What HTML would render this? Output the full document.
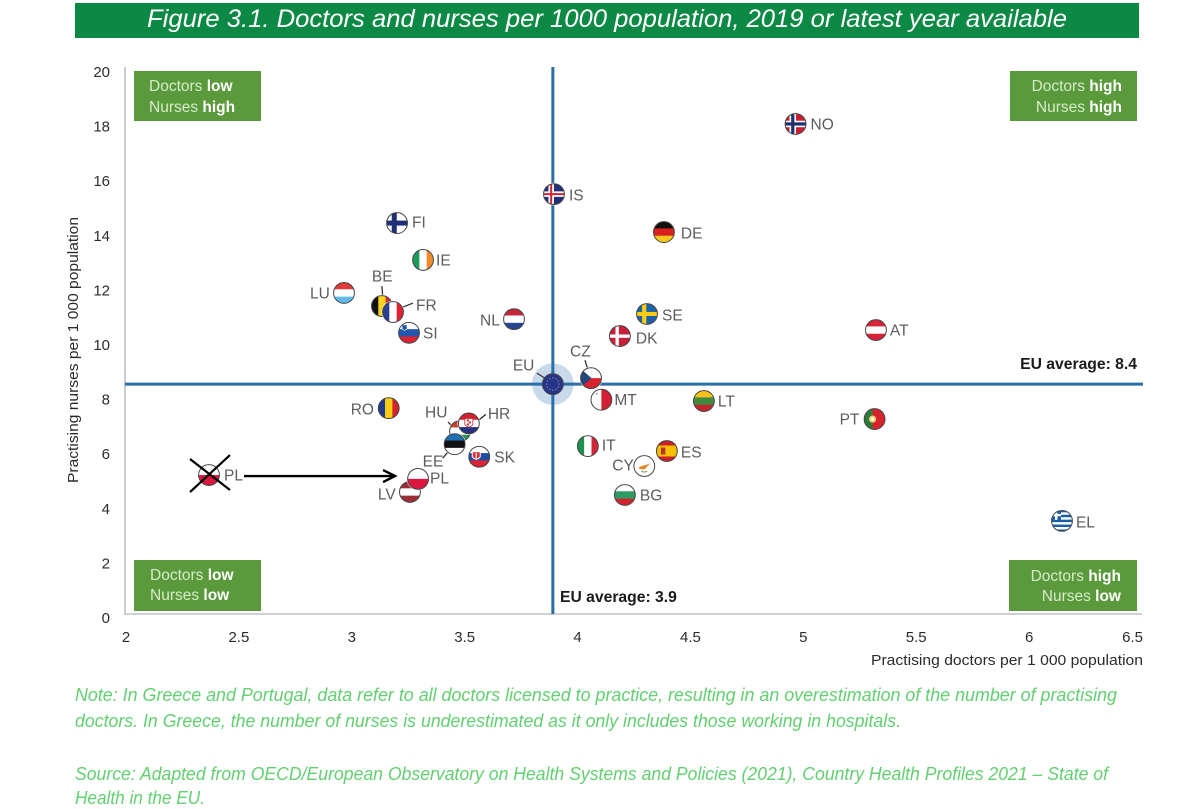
<!DOCTYPE html>
<html lang="en">
<head>
<meta charset="utf-8">
<title>Doctors and nurses per 1000 population</title>
<style>
html,body{margin:0;padding:0;background:#fff;width:1200px;height:809px;overflow:hidden}
svg{display:block;font-family:"Liberation Sans",Arial,sans-serif;filter:blur(0.35px)}
.tick{font-size:15px;fill:#2b2b2b}
.axt{font-size:14.5px;fill:#2b2b2b}
.lab{font-size:15.5px;fill:#5c5c5c}
.box{fill:#5a9a3d}
.boxt{font-size:15.5px;fill:#d6ecc8}
.boxt tspan.b{font-weight:bold;fill:#fff}
.note{font-size:18px;font-style:italic;fill:#62d070}
.avg{font-size:15.7px;font-weight:bold;fill:#1a1a1a}
</style>
</head>
<body>
<svg id="chart" width="1200" height="809" viewBox="0 0 1200 809" xmlns="http://www.w3.org/2000/svg">
  <rect x="75" y="3" width="1064" height="35" fill="#0c8a45"/>
  <text x="147" y="27" font-size="25" font-style="italic" fill="#fff" textLength="920" lengthAdjust="spacingAndGlyphs">Figure 3.1. Doctors and nurses per 1000 population, 2019 or latest year available</text>

  <rect class="box" x="134" y="71" width="127" height="50"/>
  <text class="boxt" x="149" y="91">Doctors <tspan class="b">low</tspan></text>
  <text class="boxt" x="149" y="112">Nurses <tspan class="b">high</tspan></text>

  <rect class="box" x="1010" y="71" width="127" height="50"/>
  <text class="boxt" x="1122" y="91" text-anchor="end">Doctors <tspan class="b">high</tspan></text>
  <text class="boxt" x="1122" y="112" text-anchor="end">Nurses <tspan class="b">high</tspan></text>

  <rect class="box" x="134" y="560" width="127" height="51"/>
  <text class="boxt" x="150" y="580">Doctors <tspan class="b">low</tspan></text>
  <text class="boxt" x="150" y="600">Nurses <tspan class="b">low</tspan></text>

  <rect class="box" x="1009" y="560" width="128" height="51"/>
  <text class="boxt" x="1121" y="581" text-anchor="end">Doctors <tspan class="b">high</tspan></text>
  <text class="boxt" x="1121" y="601" text-anchor="end">Nurses <tspan class="b">low</tspan></text>

  <line x1="125" y1="67" x2="125" y2="614" stroke="#bfc0c4" stroke-width="1.6"/>
  <line x1="124" y1="614" x2="1142" y2="614" stroke="#bfc0c4" stroke-width="1.6"/>

  <g id="ticks"></g>

  <text class="axt" x="1143" y="665" text-anchor="end" textLength="272" lengthAdjust="spacingAndGlyphs">Practising doctors per 1 000 population</text>
  <text class="axt" transform="translate(78,350) rotate(-90)" text-anchor="middle" textLength="266" lengthAdjust="spacingAndGlyphs">Practising nurses per 1 000 population</text>

  <g id="averages"></g>
  <g id="marks"></g>
  <g id="annotation"></g>

  <text class="avg" x="1137" y="369" text-anchor="end">EU average: 8.4</text>
  <text class="avg" x="560" y="602">EU average: 3.9</text>

  <text class="note" x="75" y="701" textLength="1042" lengthAdjust="spacingAndGlyphs">Note: In Greece and Portugal, data refer to all doctors licensed to practice, resulting in an overestimation of the number of practising</text>
  <text class="note" x="75" y="727" textLength="826" lengthAdjust="spacingAndGlyphs">doctors. In Greece, the number of nurses is underestimated as it only includes those working in hospitals.</text>
  <text class="note" x="75" y="780" textLength="1033" lengthAdjust="spacingAndGlyphs">Source: Adapted from OECD/European Observatory on Health Systems and Policies (2021), Country Health Profiles 2021 – State of</text>
  <text class="note" x="75" y="804" textLength="130" lengthAdjust="spacingAndGlyphs">Health in the EU.</text>
</svg>

<script>
// ---- chart data ----
const countries = ['NO','IS','FI','DE','IE','LU','BE','FR','SI','NL','SE','DK','AT','EU','MT','CZ','LT','RO','PT','HU','HR','EE','IT','CY','ES','SK','LV','PL','BG','EL','PL_OLD'];
const doctors   = [4.97,3.90,3.205,4.387,3.32,2.97,3.138,3.187,3.258,3.723,4.312,4.192,5.326,3.895,4.11,4.064,4.564,3.168,5.32,3.484,3.523,3.46,4.05,4.30,4.40,3.569,3.262,3.298,4.214,6.15,2.372];
const nurses    = [17.95,15.38,14.32,13.99,12.97,11.76,11.28,11.06,10.30,10.80,10.99,10.18,10.40,8.42,7.85,8.64,7.80,7.54,7.14,6.70,6.98,6.22,6.15,5.42,5.97,5.76,4.47,4.95,4.36,3.41,5.09];
const xTickValues = [2,2.5,3,3.5,4,4.5,5,5.5,6,6.5];
const yTickValues = [0,2,4,6,8,10,12,14,16,18,20];
const euAverageDoctors = 3.895;
const euAverageNurses = 8.42;

// ---- axis functions ----
const xMin = 2, xMax = 6.5, yMin = 0, yMax = 20;
function xS(v){ return 125 + (v - xMin) / (xMax - xMin) * 1016; }
function yS(v){ return 614 - (v - yMin) / (yMax - yMin) * 546; }

// ---- label placement (pixel offsets from marker centre; styling, not data) ----
const labelPlacement = {
  NO:[15,0],IS:[15,1],FI:[15,-1],DE:[17,1],IE:[13,0],LU:[-34,0],BE:[-10,-30],FR:[23,-7],SI:[14,0],NL:[-34,1],
  SE:[15,1],DK:[16,2],AT:[14,0],EU:[-40,-19],CZ:[-21,-27],MT:[13,0],LT:[14,0],RO:[-38,1],PT:[-35,0],HU:[-35,-19],
  HR:[19,-10],EE:[-32,17],IT:[14,-1],ES:[14,1],SK:[15,0],CY:[-32,-1],PL:[12,-1],LV:[-32,2],BG:[15,0],EL:[14,1],PL_OLD:[15,0]
};
const leaderPlacement = {
  BE:[0,-20,1,-6],FR:[10,-5,20,-9],EU:[-16,-11,-8,-6],CZ:[-6,-18,-3,-8],HU:[-12,-9,-6,-3],HR:[8,-2,17,-9],EE:[-12,14,-6,7]
};

// ---- flag styles ----
const flagStyle = {
  NO:{k:'n',c:['#c8202f','#fff','#1f2f6b'],w:[6.5,3.2]},
  IS:{k:'n',c:['#1f3277','#fff','#d2242e'],w:[5.5,2]},
  FI:{k:'n',c:['#fff','#fff','#1f2f7a'],w:[5,5]},
  SE:{k:'n',c:['#1d62a8','#f8cc15','#f8cc15'],w:[4,4]},
  DK:{k:'n',c:['#c8203a','#fff','#fff'],w:[3.2,3.2]},
  DE:{k:'h',c:['#111','#d8201f','#f7c81a']},
  IE:{k:'v',c:['#1e9a58','#fff','#f08a2c']},
  LU:{k:'h',c:['#e6393f','#fff','#62b8e8']},
  BE:{k:'v',c:['#111','#f6d31c','#d9262e']},
  FR:{k:'v',c:['#2b3f94','#fff','#dc2433']},
  SI:{k:'h',c:['#fff','#2257ad','#dc2433'],d:'si'},
  NL:{k:'h',c:['#c2273a','#fff','#27468f']},
  AT:{k:'h',c:['#d6233a','#fff','#d6233a']},
  EU:{k:'eu',c:['#27348b']},
  MT:{k:'v',c:['#fff','#d31f34'],d:'mt'},
  CZ:{k:'h',c:['#fff','#d8232f'],d:'cz'},
  LT:{k:'h',c:['#f5c31a','#3f8a3f','#c2272d']},
  RO:{k:'v',c:['#1f3a8a','#f7ce12','#d2252e']},
  PT:{k:'pt',c:['#2b7d39','#d8232f']},
  HU:{k:'h',c:['#cf3d2c','#fff','#2f8f55']},
  HR:{k:'h',c:['#d4232f','#fff','#25327f'],d:'hr'},
  EE:{k:'h',c:['#1f6fb4','#111','#fff']},
  IT:{k:'v',c:['#1f9150','#fff','#d2253a']},
  CY:{k:'cy',c:['#fff']},
  ES:{k:'es',c:['#c9202a','#f5c000']},
  SK:{k:'h',c:['#fff','#1e4ea2','#dc2433'],d:'sk'},
  LV:{k:'h',c:['#9c2e3a','#fff','#9c2e3a']},
  PL:{k:'h',c:['#fff','#dd1640']},
  BG:{k:'h',c:['#fff','#2c9a62','#d2232f']},
  EL:{k:'el',c:['#1a5ea8','#fff']},
  PL_OLD:{k:'h',c:['#fff','#dd1640']}
};

const NS = 'http://www.w3.org/2000/svg';
function mk(tag, attrs, parent){
  const el = document.createElementNS(NS, tag);
  for (const key in attrs) el.setAttribute(key, attrs[key]);
  if (parent) parent.appendChild(el);
  return el;
}

// ticks
const ticksG = document.getElementById('ticks');
xTickValues.forEach(function(v, i){
  const last = i === xTickValues.length - 1;
  const t = mk('text', {class:'tick', x: last ? xS(v) + 2 : xS(v) + 1, y: 642, 'text-anchor': last ? 'end' : 'middle'}, ticksG);
  
  
  t.textContent = String(v);
});
yTickValues.forEach(function(v){
  const t = mk('text', {class:'tick', x: 110, y: yS(v) + 9, 'text-anchor': 'end'}, ticksG);
  
  
  t.textContent = String(v);
});

// average lines (EU halo sits beneath them)
const avgG = document.getElementById('averages');
const euIdx = countries.indexOf('EU');
const halo = mk('circle', {cx:xS(doctors[euIdx]), cy:yS(nurses[euIdx]), r:20.8, fill:'#c8d9e9'}, avgG);


const hLine = mk('line', {x1:125, x2:1143, y1:yS(euAverageNurses), y2:yS(euAverageNurses), stroke:'#2a6ea8', 'stroke-width':3}, avgG);


const vLine = mk('line', {x1:xS(euAverageDoctors), x2:xS(euAverageDoctors), y1:67, y2:614, stroke:'#2a6ea8', 'stroke-width':3}, avgG);



// flag painter (local coordinates around marker centre)
function stripes(g, dir, cols){
  const n = cols.length, s = 22 / n;
  cols.forEach(function(c, i){
    if (dir === 'h') mk('rect', {x:-11, y:-11 + i * s, width:22, height:s + 0.2, fill:c}, g);
    else mk('rect', {x:-11 + i * s, y:-11, width:s + 0.2, height:22, fill:c}, g);
  });
}
function paintFlag(g, st){
  const c = st.c;
  if (st.k === 'h' || st.k === 'v') stripes(g, st.k, c);
  if (st.k === 'n'){
    const o = st.w[0], inner = st.w[1], cx = -2.8;
    mk('rect', {x:-11, y:-11, width:22, height:22, fill:c[0]}, g);
    mk('rect', {x:cx - o / 2, y:-11, width:o, height:22, fill:c[1]}, g);
    mk('rect', {x:-11, y:-o / 2, width:22, height:o, fill:c[1]}, g);
    mk('rect', {x:cx - inner / 2, y:-11, width:inner, height:22, fill:c[2]}, g);
    mk('rect', {x:-11, y:-inner / 2, width:22, height:inner, fill:c[2]}, g);
  }
  if (st.k === 'eu'){
    mk('rect', {x:-11, y:-11, width:22, height:22, fill:c[0]}, g);
    for (let a = 0; a < 12; a++){
      mk('circle', {cx:6.2 * Math.cos(a * Math.PI / 6), cy:6.2 * Math.sin(a * Math.PI / 6), r:0.7, fill:'#8d8f7a'}, g);
    }
  }
  if (st.k === 'pt'){
    mk('rect', {x:-11, y:-11, width:22, height:22, fill:c[1]}, g);
    mk('rect', {x:-11, y:-11, width:9, height:22, fill:c[0]}, g);
    mk('circle', {cx:-2, cy:0, r:3.6, fill:'#f0d070'}, g);
    mk('circle', {cx:-2, cy:0, r:1.5, fill:'#fff'}, g);
  }
  if (st.k === 'es'){
    mk('rect', {x:-11, y:-11, width:22, height:22, fill:c[0]}, g);
    mk('rect', {x:-11, y:-5.5, width:22, height:11, fill:c[1]}, g);
    mk('rect', {x:-6, y:-3.5, width:4.5, height:7, fill:'#b5372a'}, g);
  }
  if (st.k === 'cy'){
    mk('rect', {x:-11, y:-11, width:22, height:22, fill:c[0]}, g);
    mk('path', {d:'M-6 2 C-3 -1 1 0 6 -3 C4 0 2 1 1 3 C-2 4 -4 3 -6 2Z', fill:'#d98a2e'}, g);
    mk('path', {d:'M-3 5 Q0 7 3 5', stroke:'#7f9a55', fill:'none', 'stroke-width':1}, g);
  }
  if (st.k === 'el'){
    mk('rect', {x:-11, y:-11, width:22, height:22, fill:c[0]}, g);
    for (let i = 0; i < 4; i++) mk('rect', {x:-11, y:-8.6 + i * 4.9, width:22, height:2.45, fill:c[1]}, g);
    mk('rect', {x:-11, y:-11, width:10, height:10, fill:c[0]}, g);
    mk('rect', {x:-7, y:-11, width:2.4, height:10, fill:c[1]}, g);
    mk('rect', {x:-11, y:-7, width:10, height:2.4, fill:c[1]}, g);
  }
  if (st.d === 'cz') mk('path', {d:'M-11 -10 L0.5 0 L-11 10Z', fill:'#23477f'}, g);
  if (st.d === 'mt') mk('rect', {x:-5.5, y:-7, width:2, height:2, fill:'#b9b9b9'}, g);
  if (st.d === 'si') mk('path', {d:'M-7 -8 h5 v4 q-2.5 3 -5 0Z', fill:'#2257ad', stroke:'#fff', 'stroke-width':0.7}, g);
  if (st.d === 'sk'){
    mk('path', {d:'M-7 -5 h8 v5 q-4 5 -8 0Z', fill:'#d92a35', stroke:'#fff', 'stroke-width':1}, g);
    mk('rect', {x:-3.6, y:-3.6, width:1.2, height:5.5, fill:'#fff'}, g);
  }
  if (st.d === 'hr'){
    mk('path', {d:'M-4 -5 h8 v6 q-4 5 -8 0Z', fill:'#fff', stroke:'#c3232f', 'stroke-width':0.8}, g);
    mk('rect', {x:-2, y:-4, width:2, height:2, fill:'#d4232f'}, g);
    mk('rect', {x:0, y:-2, width:2, height:2, fill:'#d4232f'}, g);
    mk('rect', {x:-2, y:0, width:2, height:2, fill:'#d4232f'}, g);
  }
}

// markers
const defs = mk('defs', {}, document.getElementById('chart'));
const clip = mk('clipPath', {id:'flag-clip'}, defs);
mk('circle', {cx:0, cy:0, r:10.4}, clip);
const marksG = document.getElementById('marks');
countries.forEach(function(code, i){
  const cx = xS(doctors[i]), cy = yS(nurses[i]);
  const pointG = mk('g', {}, marksG);
  
  

  const lead = leaderPlacement[code];
  if (lead) {
    const ln = mk('line', {x1:cx + lead[0], y1:cy + lead[1], x2:cx + lead[2], y2:cy + lead[3], stroke:'#333', 'stroke-width':1.3}, pointG);
    
    
  }
  const pos = 'translate(' + cx + ',' + cy + ')';
  const body = mk('g', {transform:pos}, pointG);
  if (code !== 'EU') mk('circle', {r:11.4, fill:'#fff'}, body);
  const flagG = mk('g', {'clip-path':'url(#flag-clip)'}, body);
  
  
  paintFlag(flagG, flagStyle[code]);
  mk('circle', {r:10.4, fill:'none', stroke:'#444', 'stroke-width':1}, body);

  const off = labelPlacement[code];
  const lab = mk('text', {class:'lab', x:cx + off[0], y:cy + off[1] + 5.5}, pointG);
  
  
  lab.textContent = code.replace('_OLD', '');
});

// hand-drawn correction: cross over old PL and arrow to new PL
const oldIdx = countries.indexOf('PL_OLD'), newIdx = countries.indexOf('PL');
const ox = xS(doctors[oldIdx]), oy = yS(nurses[oldIdx]);
const nx = xS(doctors[newIdx]);
const annG = document.getElementById('annotation');
const cross1 = mk('line', {x1:ox - 19, y1:oy - 16, x2:ox + 21, y2:oy + 15, stroke:'#000', 'stroke-width':2.2}, annG);


const cross2 = mk('line', {x1:ox + 21, y1:oy - 20, x2:ox - 19, y2:oy + 17, stroke:'#000', 'stroke-width':2.2}, annG);


const arrow = mk('line', {x1:ox + 35, y1:oy + 1, x2:nx - 23, y2:oy + 1, stroke:'#000', 'stroke-width':2.4}, annG);


const head = mk('path', {d:'M' + (nx - 35) + ' ' + (oy - 5) + ' L' + (nx - 23) + ' ' + (oy + 1) + ' L' + (nx - 35) + ' ' + (oy + 7), fill:'none', stroke:'#000', 'stroke-width':2.4}, annG);


</script>
</body>
</html>
